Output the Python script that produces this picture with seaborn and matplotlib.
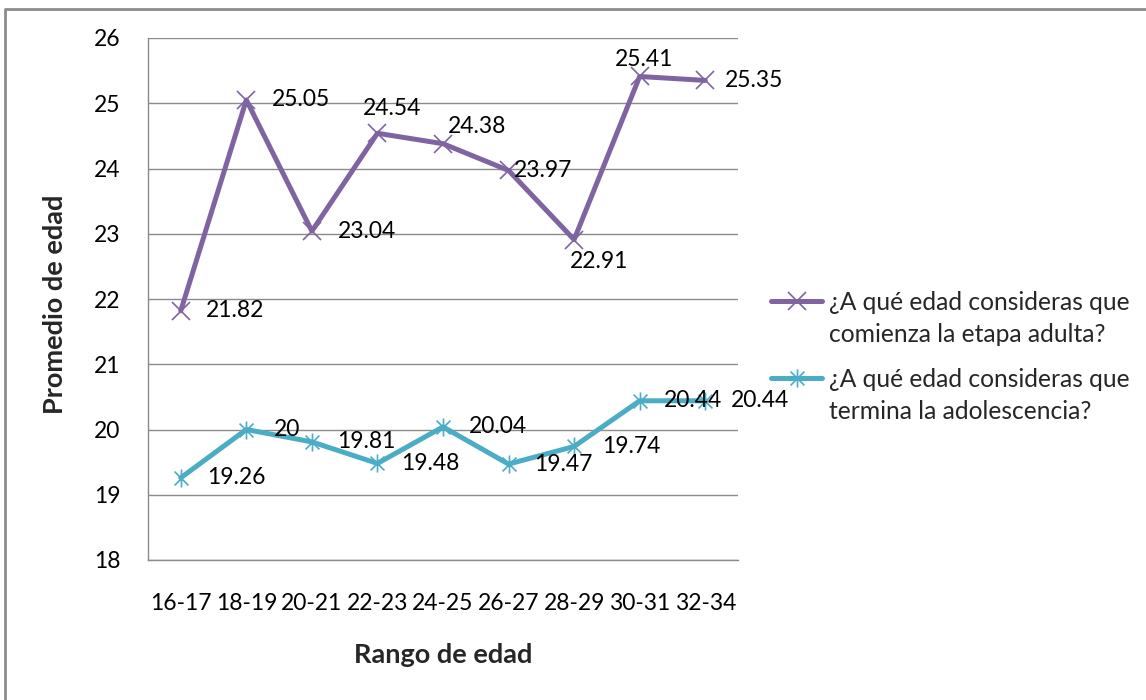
import matplotlib
matplotlib.use("Agg")
import matplotlib.pyplot as plt
from matplotlib.path import Path
from matplotlib.lines import Line2D
import pandas as pd
import seaborn as sns

categories = ["16-17", "18-19", "20-21", "22-23", "24-25", "26-27", "28-29", "30-31", "32-34"]
adulta = [21.82, 25.05, 23.04, 24.54, 24.38, 23.97, 22.91, 25.41, 25.35]
adolescencia = [19.26, 20, 19.81, 19.48, 20.04, 19.47, 19.74, 20.44, 20.44]
serie_adulta = "¿A qué edad consideras que\ncomienza la etapa adulta?"
serie_adol = "¿A qué edad consideras que\ntermina la adolescencia?"

PURPLE = "#8064A2"
TEAL = "#4BACC6"
GRID = "#8a8a8a"
FONT = "Lato"

sns.set_theme(style="white")
plt.rcParams["font.family"] = [FONT, "DejaVu Sans"]

# asterisco: x + barra vertical
star = Path([(-1, -1), (1, 1), (-1, 1), (1, -1), (0, -1.3), (0, 1.3)],
            [Path.MOVETO, Path.LINETO, Path.MOVETO, Path.LINETO, Path.MOVETO, Path.LINETO])

df = pd.DataFrame({"rango": categories, "adulta": adulta, "adol": adolescencia})

fig = plt.figure(figsize=(11.46, 7), dpi=100)
ax = fig.add_axes([148 / 1146, 140 / 700, 590 / 1146, 522 / 700])

sns.lineplot(data=df, x="rango", y="adulta", ax=ax, color=PURPLE, lw=3.6,
             marker="x", ms=13, mew=1.2, mec=PURPLE, label=serie_adulta, sort=False)
sns.lineplot(data=df, x="rango", y="adol", ax=ax, color=TEAL, lw=3.6,
             marker=star, ms=13, mew=1.2, mec=TEAL, mfc="none", label=serie_adol, sort=False)

# etiquetas de datos (desplazamiento en px: dx borde izq, dy centro)
off_adulta = [(25, 0), (26, 0), (26, 0), (-15, -25), (5, -17), (5, 0), (-4, 22), (-25, -17), (20, 0)]
off_adol = [(26, 0), (28, 0), (25, 0), (24, 0), (26, 0), (26, 0), (28, 0), (24, 0), (26, 0)]
for vals, offs in [(adulta, off_adulta), (adolescencia, off_adol)]:
    for cat, v, (dx, dy) in zip(categories, vals, offs):
        ax.annotate(f"{v:g}", (cat, v), xytext=(dx * 0.72, -dy * 0.72),
                    textcoords="offset points", ha="left", va="center",
                    fontsize=16.5, color="black")

ax.set_xlim(-0.5, len(categories) - 0.5)
ax.set_ylim(18, 26)
ax.set_yticks(range(18, 27))
ax.yaxis.grid(True, color=GRID, lw=1.0)
ax.xaxis.grid(False)
ax.set_axisbelow(True)
for s in ["top", "right"]:
    ax.spines[s].set_visible(False)
for s in ["left", "bottom"]:
    ax.spines[s].set_color(GRID)
    ax.spines[s].set_linewidth(1.0)
ax.tick_params(axis="y", length=0, pad=20, labelsize=16.5, colors="black")
ax.tick_params(axis="x", length=0, pad=24, labelsize=16.5, colors="black")

ax.set_xlabel("Rango de edad", fontsize=19.5, fontweight="bold")
ax.set_ylabel("Promedio de edad", fontsize=19.5, fontweight="bold")
ax.xaxis.set_label_coords(0.5, -0.159)
ax.yaxis.set_label_coords(-0.137, 0.49)

leg = ax.legend(loc="center left", bbox_to_anchor=(761 / 1146, 0.49), bbox_transform=fig.transFigure,
                frameon=False, fontsize=17.7, handlelength=2.1, handletextpad=0.25,
                handleheight=1.0, labelspacing=0.9, borderaxespad=0)
for t in leg.get_texts():
    t.set_linespacing(1.47)
# símbolo alineado con la primera línea del texto, como en Excel
for col in leg._legend_handle_box.get_children():
    for item in col.get_children():
        item.align = "top"

# marco exterior del gráfico
fig.add_artist(Line2D([5 / 1146, 5 / 1146, 1], [0, 1 - 8.5 / 700, 1 - 8.5 / 700],
                      transform=fig.transFigure, color="#8c8c8c", lw=2))

fig.savefig("out.png", dpi=100)
